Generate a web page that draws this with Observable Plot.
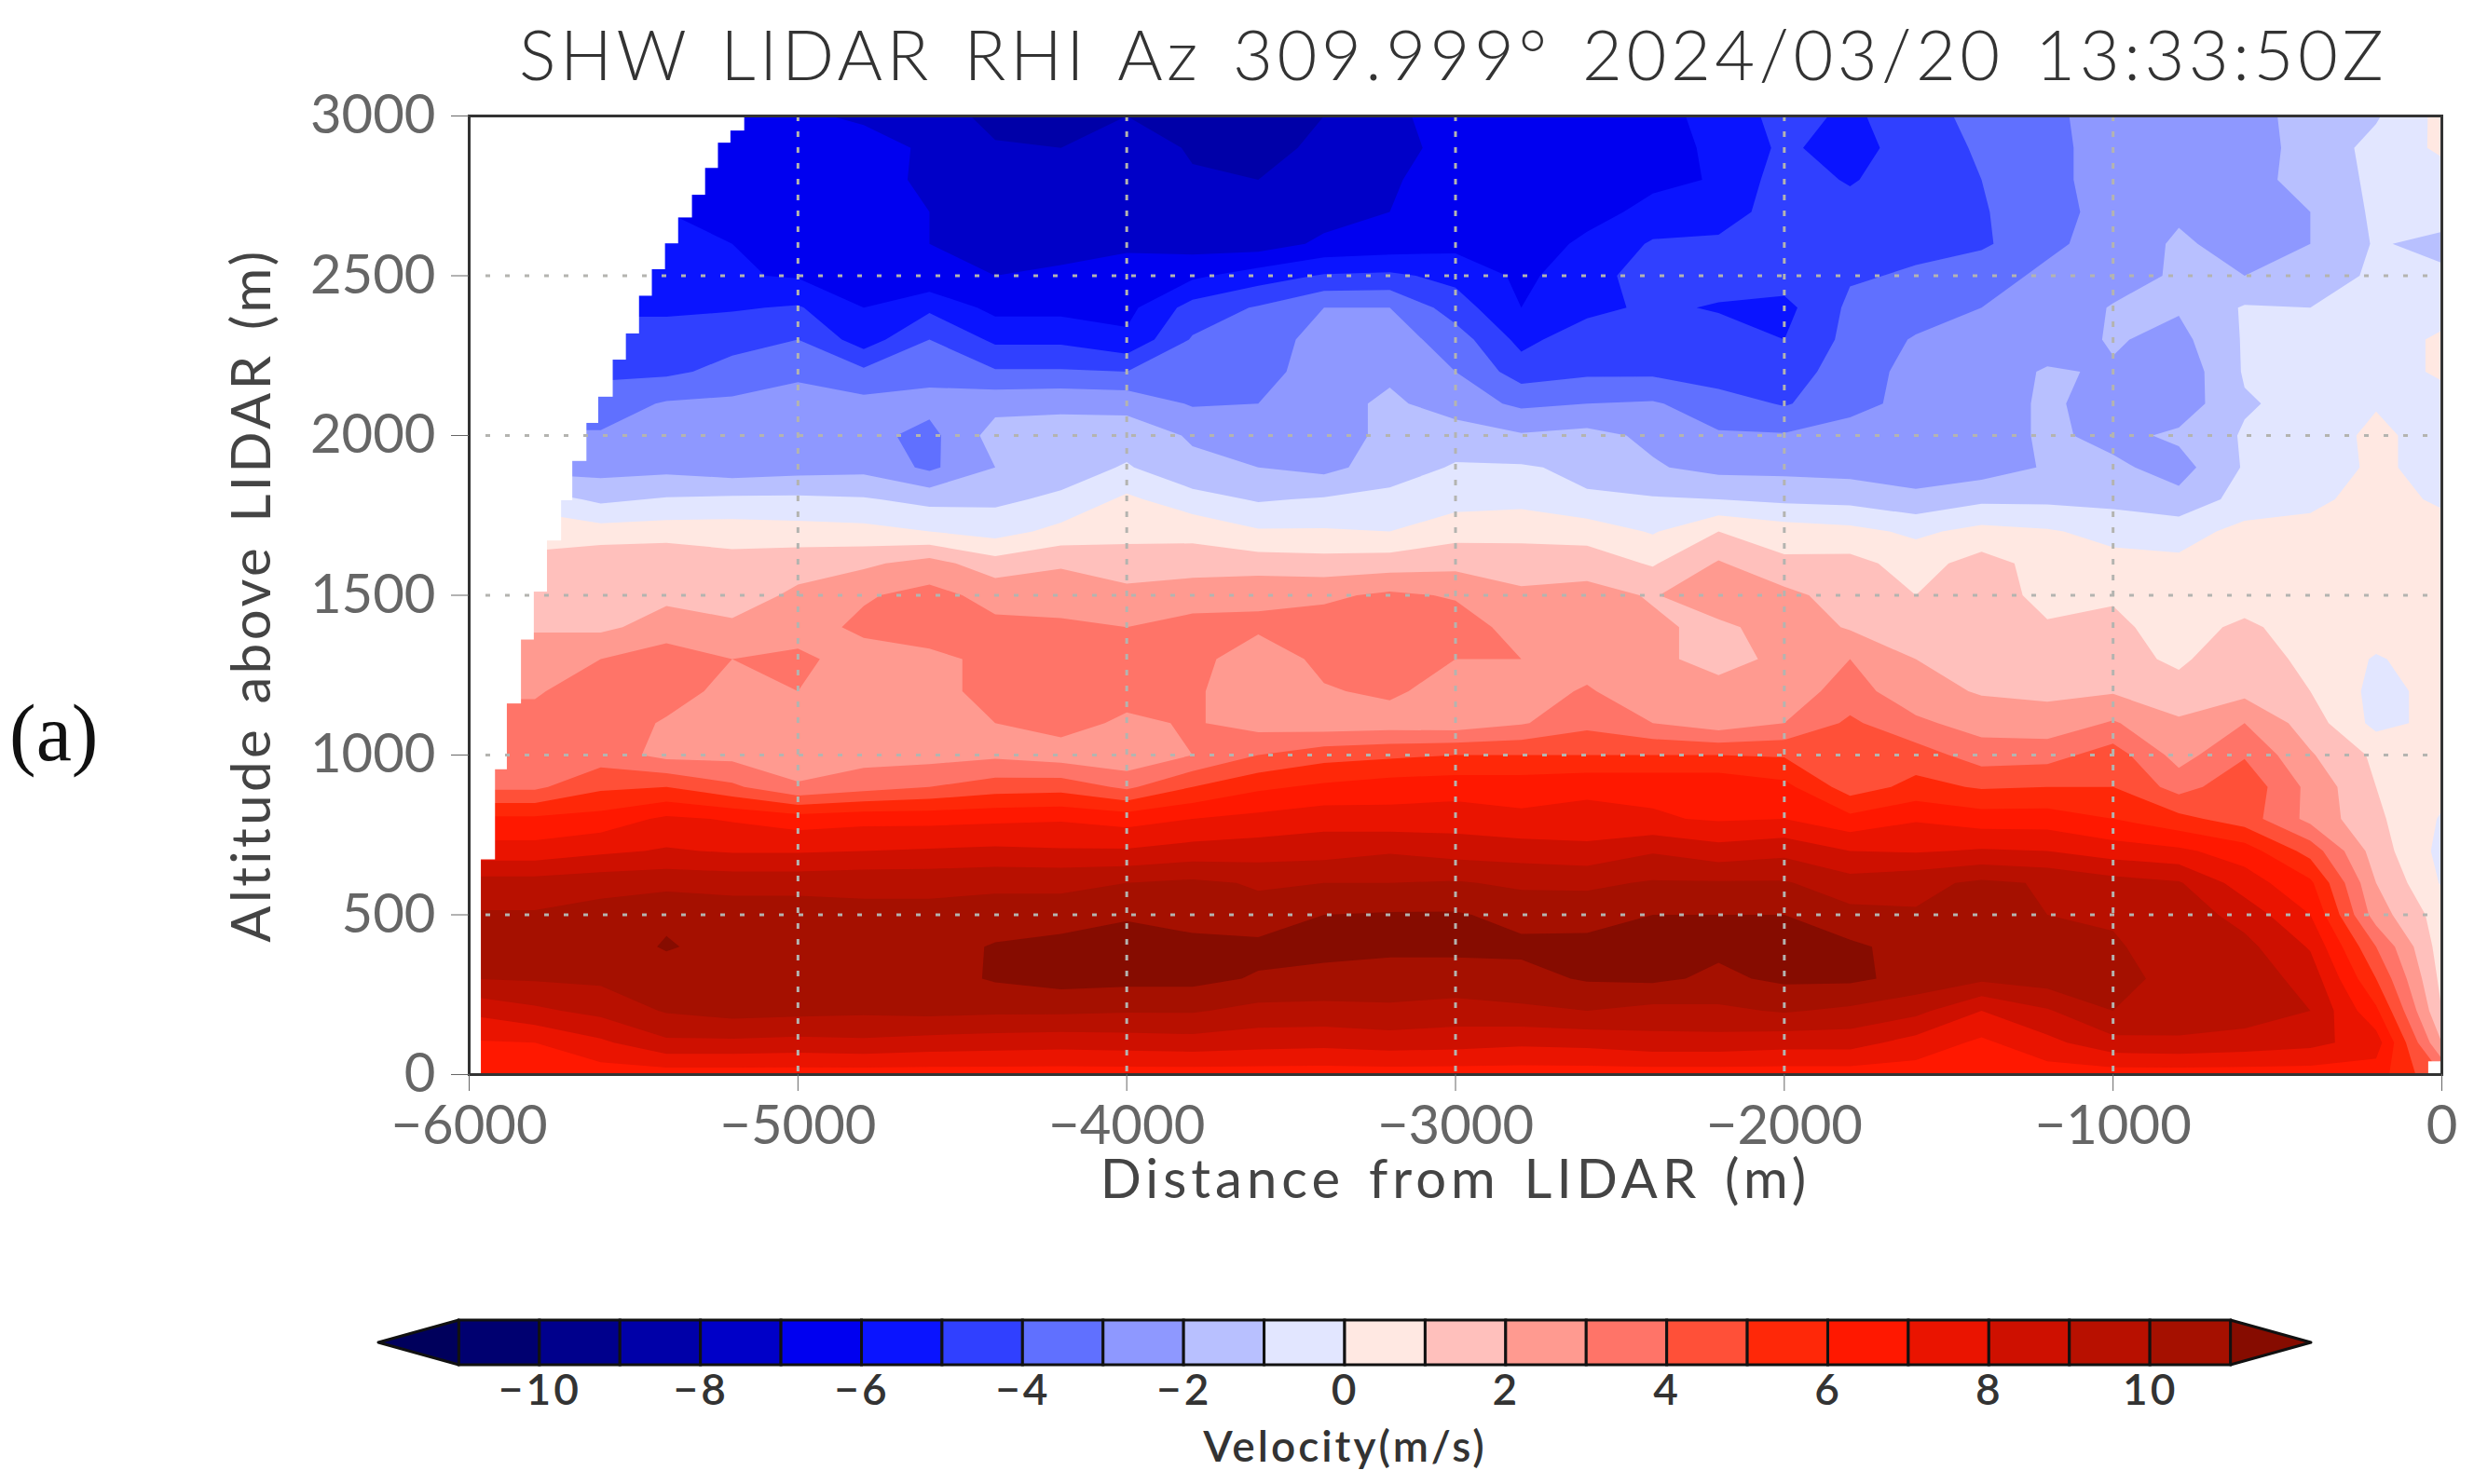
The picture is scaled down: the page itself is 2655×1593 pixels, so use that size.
<!DOCTYPE html>
<html>
<head>
<meta charset="utf-8">
<script src="https://cdn.jsdelivr.net/npm/d3@7"></script>
<script src="https://cdn.jsdelivr.net/npm/@observablehq/plot@0.6"></script>
<style>
html,body{margin:0;padding:0;background:#fff;width:2655px;height:1593px;overflow:hidden}
#title{position:absolute;left:557px;top:15px;font:300 74px Lato,sans-serif;color:#333;white-space:pre;letter-spacing:4.5px;word-spacing:9px;line-height:86px;z-index:2}
#panel{position:absolute;left:10px;top:737px;font:86px "Liberation Serif",serif;color:#111;z-index:2}
#main{position:absolute;left:0;top:70px}
#bar{position:absolute;left:0;top:1380px}
svg{display:block;background:transparent}
.lab{letter-spacing:5px;word-spacing:6px}
.ylab{letter-spacing:3.5px;word-spacing:6px}
.blab{letter-spacing:3px}
</style>
</head>
<body>
<div id="title">SHW LIDAR RHI Az 309.999° 2024/03/20 13:33:50Z</div>
<div id="panel">(a)</div>
<div id="main"></div>
<div id="bar"></div>
<script>
// velocity (m/s) on a grid: columns -6000..0 every 200 m, one array per altitude (every 100 m)
const alt0000=[6.4,6.4,6.5,6.5,6.5,6.5,6.5,6.5,6.5,6.5,6.5,6.5,6.5,6.5,6.5,6.5,6.5,6.5,6.5,6.5,6.5,6.5,6.5,6.5,6.5,6.5,6.5,6.5,6.5,6.5,4];
const alt0100=[6.9,7,7.8,8.8,8.8,8.7,8.8,8.6,8.5,8.4,8.5,8.6,8.4,8.3,8.5,8.4,8.2,8.3,8.6,8.6,8.4,8.4,7.6,6.8,7.7,8.7,8.8,8.6,8.3,7.5,2];
const alt0200=[8.2,8.8,9.3,10.1,10.4,10.3,10.2,10.3,10.2,10.2,10.1,10.1,9.7,9.7,9.8,9.6,9.8,10,9.7,9.8,10.1,9.8,9.3,8,8.9,10,9.7,9.5,9,6.2,1];
const alt0300=[10,10.1,10.2,10.4,10.5,10.5,10.5,10.6,11.1,11.4,11.3,11.3,10.9,10.7,10.6,10.6,10.7,11.1,11.2,10.8,11.2,11.2,10.7,10.2,10.5,10.2,9.8,9.6,8.6,5,0.7];
const alt0400=[10.3,10.3,10.4,11.1,10.6,10.9,10.4,10.5,11.1,11.4,11.4,11.3,11.3,11.3,11.2,11.2,11.2,11.3,11.3,11.2,11.3,11.2,10.6,10.6,10.4,10.1,9.6,9.3,7.9,4,0.5];
const alt0500=[10.1,10.1,10.4,10.8,10.6,10.6,10.3,10.3,10.4,10.4,10.9,10.6,10.3,11,11.1,11.1,10.7,10.6,11,11,11,10.3,10.1,10.9,10,9.9,9.6,8.6,7,2.5,0.5];
const alt0600=[9.4,9.4,9.6,9.7,9.6,9.6,9.7,9.7,9.8,9.8,10,10.2,9.9,10,10,10.1,9.8,9.8,10.1,10.1,10.1,9.4,9.7,10.2,9.9,9.4,9.1,7.5,6.2,2,-0.1];
const alt0700=[7.4,7.4,7.8,8.1,7.9,7.9,8,8.1,8.2,8.1,8.1,8.4,8.5,8.6,8.9,8.6,8.5,8.3,8.9,8.4,8.7,8,7.9,8.1,8,7.5,7.2,6.5,4.6,1.5,-0.3];
const alt0800=[6.2,6.2,6.4,7.2,6.9,6.5,6.7,6.7,6.8,6.9,6.6,7,7.3,7.6,7.4,7.5,7.2,7.3,7.1,6.9,7,6.3,6.9,6.5,6.5,6,5.3,4.5,2.7,1.2,-0.1];
const alt0900=[3.8,3.8,4.8,5,4.2,3.1,3.6,4,4.5,4.6,3.8,5,5.8,6.2,6.5,6.6,6.6,6.8,6.8,6.8,6.3,4.5,5.3,4.9,5,5,3.6,4.7,2.7,1,0.3];
const alt1000=[3.4,3.4,3.5,2.7,2.7,2.5,2.6,2.6,2.8,2.5,2.2,3,4,4.6,4.8,5,5,5,5,5,4.9,5,4.5,3.5,3.6,4.5,2.6,3.9,2.1,0.8,0.4];
const alt1100=[3.3,3.3,3.5,2.9,2.7,2.7,2.6,2.7,3,3.4,2.8,3.1,2.6,2.4,2.5,2.4,2.9,3.7,3,2.4,3,4.2,3.2,2.6,2.4,3.1,2.2,3,1.5,-0.3,0.3];
const alt1200=[2.9,2.9,3.5,3.4,2.7,3,2.6,2.6,3.4,3.5,3.4,3.1,2.6,2.9,3.2,2.5,2.6,3.1,2.4,2.3,2.5,3.4,2.4,1.9,1.8,1.9,1.2,1.7,1,-0.3,0.3];
const alt1300=[2.5,2.5,3,3.6,3,3.2,2.6,2.7,3.3,3.4,3.3,3.4,2.3,3.3,3.4,3,3,2.6,2.2,1.7,2.2,3,2,1.7,1.5,1.2,0.9,1.4,0.8,-0.1,0.5];
const alt1400=[1.9,1.9,1.8,2.4,2.2,2.6,3.2,3.6,3.2,3.2,3,3.3,3.2,3.5,3.5,3.5,2.6,2.5,2.2,1.7,2.6,1.9,1.5,1.5,1.1,1.2,0.6,1.2,0.5,0.5,0.5];
const alt1500=[1.2,1.2,1.9,1.8,1.5,2.2,2.9,3.3,2.7,2.5,2.4,2.6,2.8,2.8,3.2,2.9,2.2,2.4,1.9,2.9,2.3,1.5,1,1.5,0.7,0.9,0.5,0.5,0.5,0.5,0.5];
const alt1600=[1.2,1.2,1.8,1.9,1.4,1.6,1.8,2.4,1.4,1.9,1.3,1.5,1.5,1.4,1.5,1.7,1.5,1.5,0.9,2.1,1.2,1.3,0.6,1.4,0.6,0.3,0.2,0.4,0.4,0.6,0.5];
const alt1700=[0.7,0.7,0.4,0.5,0.5,0.4,0.3,0,-0.4,0.3,0.8,0.7,0.1,0.1,0,0.6,0.7,0.6,-0.1,1,0.5,0.3,-0.2,0.3,0.1,-0.3,-0.4,0.3,0.4,0.8,0.5];
const alt1800=[-0.5,-0.5,-1.2,-0.9,-0.8,-0.8,-0.9,-1.3,-1.2,-0.8,0.2,-0.6,-1.1,-0.9,-0.7,-0.4,-0.3,-0.9,-0.9,-1,-1.2,-1.3,-1.7,-1.2,-1.2,-1.3,-1.7,-0.6,-0.3,0.5,-0.2];
const alt1900=[-2.4,-2.4,-2.4,-2.3,-2.6,-2.4,-2.3,-3.2,-2,-1.5,-0.9,-1.8,-2,-2.3,-1.5,-0.9,-0.9,-1.2,-1.9,-2.3,-2.3,-2.4,-2.6,-2.5,-1.9,-1.8,-2.4,-0.9,-0.6,0.2,-0.4];
const alt2000=[-2.9,-2.9,-2.9,-2.7,-2.5,-2.6,-2.7,-3.3,-1.6,-1.6,-1.5,-2.1,-2.5,-2.6,-1.7,-1.5,-1.9,-1.7,-2.2,-2.9,-2.9,-2.6,-2.6,-2.6,-1.8,-2.3,-1.8,-0.9,-0.7,0.3,-0.6];
const alt2100=[-3.5,-3.5,-3.5,-2.9,-2.8,-2.6,-2.7,-2.7,-2.3,-2.2,-2.3,-3.1,-3,-2.4,-1.8,-2.5,-3.2,-3,-2.9,-3.5,-4.1,-3.3,-2.7,-2.6,-1.8,-2.5,-2.6,-1.1,-0.7,-0.1,-0.5];
const alt2200=[-4.2,-4.2,-4.2,-4.2,-3.7,-3.2,-3.8,-3.3,-3.9,-3.9,-4,-3.4,-3.3,-2.6,-2.2,-3,-4.5,-4.2,-4.2,-4.6,-4.7,-3.3,-2.8,-2.5,-1.9,-2.1,-2.7,-0.9,-0.7,-0.6,0.2];
const alt2300=[-4.5,-4.5,-4.5,-4.5,-4.3,-4,-5.5,-4,-5.2,-5.2,-5.8,-3.9,-3.4,-2.7,-2.5,-3.5,-5.3,-4.4,-4.3,-4.5,-5,-3.7,-2.9,-2.7,-2.5,-1.9,-2.3,-0.9,-0.8,-0.6,0.2];
const alt2400=[-5.2,-5.2,-5.2,-5.2,-5.1,-4.9,-6,-5.2,-6.3,-6.3,-6.3,-4.6,-3.9,-3,-3,-4.5,-6,-5.3,-4.8,-5.1,-5.3,-3.8,-3.5,-3,-2.9,-1.9,-1.9,-0.9,-1,-0.7,-0.5];
const alt2500=[-5.4,-5.4,-5.4,-5.4,-5.9,-6.1,-6.2,-6.8,-7,-6.8,-6.5,-6.2,-5.5,-4.9,-4.8,-5.3,-6.2,-5.5,-4.4,-4.5,-4.5,-4.1,-3.9,-3.2,-2.9,-2.6,-1.8,-2,-1.6,-0.8,-0.8];
const alt2600=[-5.8,-5.8,-5.8,-5.8,-6,-6.2,-6.5,-7,-7.4,-7.4,-7.2,-7.4,-7.5,-6.8,-6.6,-6.3,-6.8,-5.7,-4.9,-4.8,-4.4,-4.4,-4.2,-4.2,-3.1,-2.8,-1.8,-2.5,-2,-0.9,-1.3];
const alt2700=[-6,-6,-6,-6,-6.1,-6.2,-6.7,-7,-7.5,-7.6,-7.8,-7.8,-7.9,-7.4,-7,-6.4,-7,-6.5,-5.6,-5.5,-4.5,-4.6,-4.3,-4.1,-3.3,-2.7,-2.2,-2.2,-2,-0.8,-0.5];
const alt2800=[-6.1,-6.1,-6.1,-6.1,-6.2,-6.2,-6.6,-7.2,-7.6,-7.7,-7.5,-7.9,-8,-7.8,-7.1,-6.6,-7,-6.7,-6.3,-5.9,-4.5,-5.1,-4.4,-4,-3.2,-2.7,-2.4,-2.4,-1.6,-0.8,-0.5];
const alt2900=[-6.2,-6.2,-6.2,-6.2,-6.2,-6.3,-6.5,-7.2,-7.9,-8,-7.5,-8.1,-8.3,-7.8,-7.2,-6.8,-7,-6.8,-6.4,-5.8,-4.8,-5.5,-4.4,-3.9,-3.2,-2.7,-2.4,-2.5,-1.6,-0.7,0.2];
const alt3000=[-6.4,-6.4,-6.4,-6.4,-6.4,-6.8,-7.2,-7.5,-8.3,-8.6,-8,-8.2,-8.6,-8,-7.2,-6.6,-6.7,-6.6,-6.3,-5.7,-4.6,-5.2,-4.4,-3.7,-3.2,-2.6,-2.3,-2.5,-1.5,-1.1,0.3];

// staircase edge of the scanned region (distance reached above each altitude)
const stepDist=[-5963,-5920,-5884,-5841,-5802,-5762,-5719,-5685,-5642,-5606,-5562,-5522,-5482,-5443,-5403,-5363,-5321,-5281,-5242,-5204,-5162];
const stepBase=[0,672,954,1160,1360,1510,1670,1796,1919,2038,2120,2236,2318,2436,2519,2600,2681,2752,2836,2915,2953];
const nearGapDist=[-40];
const nearGapTop=[40];

// colour levels
const levels=[-11,-10,-9,-8,-7,-6,-5,-4,-3,-2,-1,0,1,2,3,4,5,6,7,8,9,10,11];
const levelColors=["#00005c","#000070","#00008c","#0000a8","#0000c8","#0000f0","#0a14ff","#3040ff","#6070ff","#8e98ff","#b8c0ff","#e2e6ff","#ffe8e2","#ffc0bc","#ff9a90","#ff7468","#ff5038","#ff2808","#ff1800","#ea1400","#ce1000","#b81000","#a51000","#860c00"];

const xTicks=[-6000,-5000,-4000,-3000,-2000,-1000,0];
const yTicks=[0,500,1000,1500,2000,2500,3000];
const xGrid=[-5000,-4000,-3000,-2000,-1000];
const yGrid=[500,1000,1500,2000,2500];
const barTicks=[-10,-8,-6,-4,-2,0,2,4,6,8,10];

const rows=[alt0000,alt0100,alt0200,alt0300,alt0400,alt0500,alt0600,alt0700,alt0800,alt0900,alt1000,alt1100,alt1200,alt1300,alt1400,alt1500,alt1600,alt1700,alt1800,alt1900,alt2000,alt2100,alt2200,alt2300,alt2400,alt2500,alt2600,alt2700,alt2800,alt2900,alt3000];
rows.forEach((r,i)=>{if(r.length!==31)console.error("row",i,r.length)});
const grid=rows.flat();
const colorScale={type:"threshold",domain:levels,range:levelColors};
const minus=d=>String(d).replace("-","\u2212");
const font="Lato,sans-serif";
const mask=stepDist.map((d,i)=>({d,lo:stepBase[i]}));
const nearGap=nearGapDist.map((d,i)=>({d,hi:nearGapTop[i]}));

const main=Plot.plot({
  width:2655,height:1310,
  marginTop:54,marginBottom:227,marginLeft:503,marginRight:35,
  style:{fontFamily:font,background:"transparent"},
  x:{domain:[-6000,0]},
  y:{domain:[0,3000]},
  color:colorScale,
  marks:[
    Plot.contour(grid,{width:31,height:31,x1:-6100,x2:100,y1:-50,y2:3050,thresholds:levels,fill:Plot.identity,clip:true}),
    Plot.rect(mask,{x1:()=>-6000,x2:"d",y1:"lo",y2:()=>3000,fill:"white"}),
    Plot.rect(nearGap,{x1:"d",x2:()=>0,y1:()=>0,y2:"hi",fill:"white"}),
    Plot.ruleX(xGrid,{stroke:"#b4b4b0",strokeWidth:3,strokeDasharray:"6 11"}),
    Plot.ruleY(yGrid,{stroke:"#b4b4b0",strokeWidth:3,strokeDasharray:"5 16",strokeDashoffset:-18}),
    Plot.frame({stroke:"#333",strokeWidth:3}),
    Plot.axisX(xTicks,{anchor:"bottom",label:null,tickSize:18,tickPadding:15,fontSize:58,color:"#666",tickFormat:minus}),
    Plot.axisY(yTicks,{anchor:"left",label:null,tickSize:19,tickPadding:17,fontSize:58,color:"#666",tickFormat:minus}),
    Plot.text(["Distance from LIDAR (m)"],{frameAnchor:"bottom",dy:114,textAnchor:"middle",lineAnchor:"middle",fontSize:58,fill:"#444",className:"lab"}),
    Plot.text(["Altitude above LIDAR (m)"],{frameAnchor:"left",dx:-232,textAnchor:"middle",rotate:-90,fontSize:58,fill:"#444",className:"ylab"})
  ]
});
document.getElementById("main").append(main);

const swatches=levels.slice(0,-1).map((v,i)=>({a:v,b:levels[i+1]}));
const tipLo=[{x:-12,a:0.5,b:0.5},{x:-11,a:0,b:1}];
const tipHi=[{x:11,a:0,b:1},{x:12,a:0.5,b:0.5}];
const bar=Plot.plot({
  width:2655,height:213,
  marginTop:37,marginBottom:128,marginLeft:406,marginRight:175,
  style:{fontFamily:font,background:"transparent"},
  x:{domain:[-12,12]},
  y:{domain:[0,1],axis:null},
  color:colorScale,
  marks:[
    Plot.areaY(tipLo,{x:"x",y1:"a",y2:"b",fill:levelColors[0],stroke:"#111",strokeWidth:3}),
    Plot.areaY(tipHi,{x:"x",y1:"a",y2:"b",fill:levelColors[23],stroke:"#111",strokeWidth:3}),
    Plot.rect(swatches,{x1:"a",x2:"b",y1:()=>0,y2:()=>1,fill:"a",stroke:"#111",strokeWidth:3}),
    Plot.axisX(barTicks,{anchor:"bottom",label:null,tickSize:0,tickPadding:10,fontSize:46,fontWeight:600,color:"#333",tickFormat:minus,className:"blab"}),
    Plot.text(["Velocity(m/s)"],{frameAnchor:"bottom",dy:103,fontSize:46,fontWeight:600,fill:"#333",className:"blab"})
  ]
});
document.getElementById("bar").append(bar);
</script>
</body>
</html>
